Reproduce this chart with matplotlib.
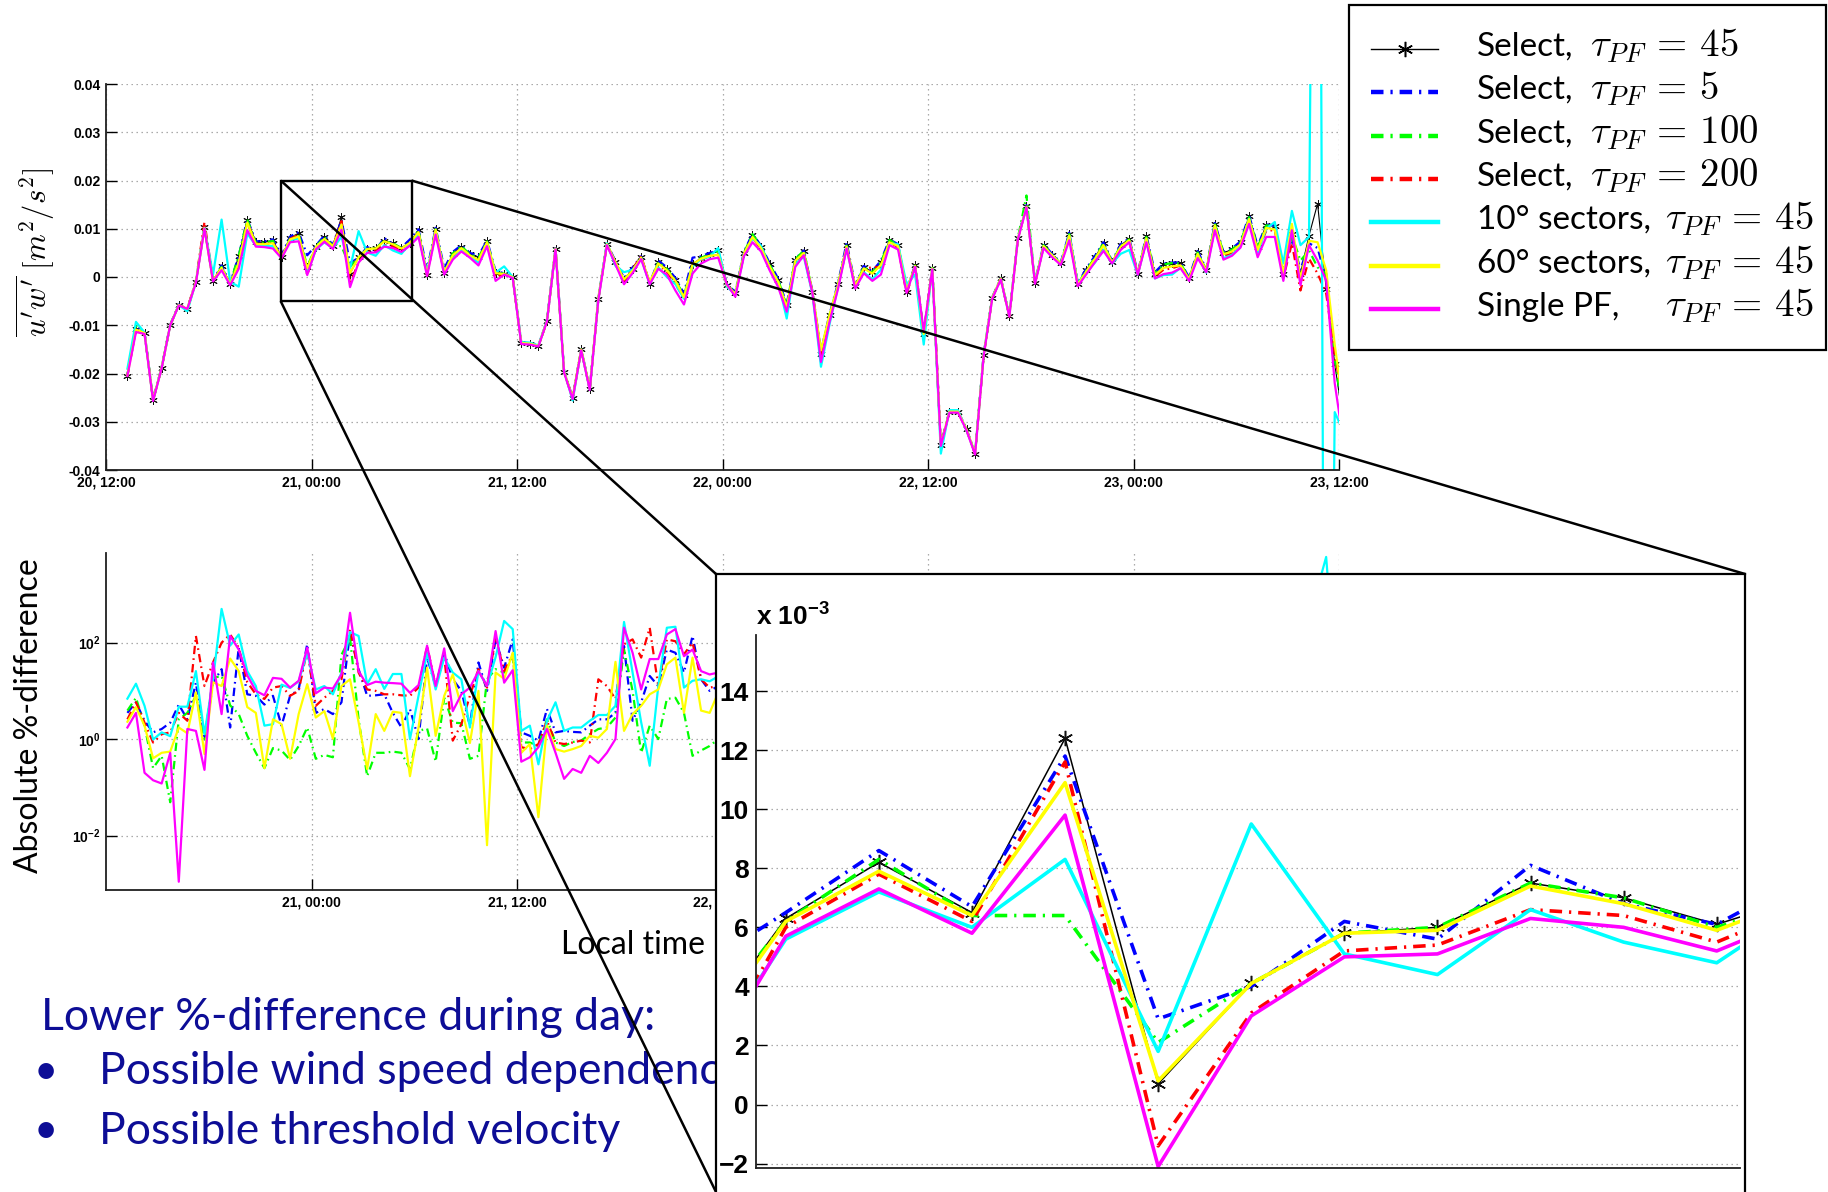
import numpy as np
import matplotlib
matplotlib.use("Agg")
import matplotlib.pyplot as plt
from matplotlib.patches import Rectangle
from matplotlib.ticker import FixedLocator, FixedFormatter, NullLocator

plt.rcParams.update({
    "font.family": ["Liberation Sans", "DejaVu Sans"],
    "mathtext.fontset": "custom",
    "mathtext.rm": "Liberation Sans:bold",
    "mathtext.bf": "Liberation Sans:bold",
    "mathtext.it": "Liberation Sans:bold:italic",
    "lines.scale_dashes": False,
})

# ---------------------------------------------------------------- data
# Half-hourly covariance u'w' in units of 1e-3 m^2/s^2.
# Time axis in hours counted from 20, 12:00 local time.
START_H = 1.25
STEP_H = 0.5

sel_45 = [
    -20.5, -10.7, -11.6, -25.5, -18.8, -10.0, -5.7, -6.6, -1.0, 10.3,
    -0.8, 2.2, -1.4, 4.3, 11.9, 7.2, 7.2, 7.6, 4.1, 8.1,
    9.1, 2.0, 6.3, 8.2, 6.5, 12.4, 0.7, 4.1, 5.8, 6.0,
    7.5, 7.0, 6.1, 7.1, 9.7, 0.5, 10.0, 0.9, 4.8, 6.3,
    4.7, 4.1, 7.4, 0.9, 0.7, 0.0, -13.7, -13.8, -14.3, -9.1,
    5.9, -19.6, -25.1, -15.0, -23.2, -4.5, 6.9, 3.1, -0.6, 1.7,
    4.1, -1.5, 3.1, 1.7, -0.6, -3.8, 2.6, 4.0, 4.8, 5.5,
    -1.7, -3.3, 5.0, 8.8, 6.3, 2.6, -0.6, -5.9, 3.6, 5.3,
    -3.1, -15.9, -7.9, -1.5, 6.6, -1.9, 2.1, 1.0, 3.1, 7.6,
    6.6, -3.1, 2.4, -11.8, 1.9, -34.8, -27.9, -27.9, -31.6, -36.6,
    -16.2, -4.3, -0.3, -8.1, 8.1, 14.8, -1.2, 6.6, 4.6, 2.8,
    9.0, -1.5, 1.5, 4.1, 7.0, 3.1, 6.6, 7.9, 0.7, 8.4,
    0.7, 2.6, 2.9, 2.8, -0.3, 5.2, 1.4, 11.0, 5.0, 5.7,
    7.2, 12.6, 6.2, 10.8, 10.5, 0.7, 9.0, 0.7, 8.6, 15.2,
    -2.4, -18.0, -30.0,
]
sel_5 = [
    -20.3, -10.6, -11.5, -25.4, -18.7, -9.9, -5.7, -6.6, -0.9, 10.4,
    -0.7, 2.4, -1.3, 4.4, 12.0, 7.4, 7.4, 7.8, 4.5, 8.4,
    9.3, 4.5, 6.5, 8.6, 6.7, 11.8, 2.9, 4.0, 6.2, 5.6,
    8.1, 6.8, 6.1, 7.8, 9.9, 1.5, 10.2, 1.8, 5.2, 6.6,
    5.0, 4.4, 7.6, 1.2, 0.8, 0.0, -13.6, -13.7, -14.2, -9.0,
    6.0, -19.5, -25.0, -14.9, -23.1, -4.4, 7.0, 3.3, -0.2, 2.0,
    4.3, -1.3, 3.4, 2.0, -0.2, -3.4, 4.0, 4.3, 5.0, 5.5,
    -1.5, -3.1, 5.2, 9.0, 6.5, 2.9, -0.3, -5.7, 3.8, 5.5,
    -2.9, -15.4, -7.7, -1.2, 7.1, -1.7, 2.3, 1.2, 3.4, 7.8,
    6.8, -2.9, 2.6, -11.6, 2.0, -34.7, -27.8, -27.8, -31.5, -36.5,
    -16.1, -4.2, -0.2, -8.0, 8.2, 14.9, -1.1, 6.8, 4.8, 3.0,
    9.2, -1.3, 1.8, 4.4, 7.2, 3.3, 6.8, 8.0, 0.9, 8.6,
    1.0, 2.8, 3.0, 3.0, -0.1, 5.4, 1.6, 11.2, 5.2, 5.9,
    7.4, 12.8, 6.4, 10.9, 10.6, 0.9, 8.0, 1.5, 7.0, 6.0,
    -0.5, -16.0, -29.0,
]
sel_100 = [
    -20.3, -10.2, -11.5, -25.5, -18.8, -10.0, -5.8, -6.7, -1.0, 10.4,
    -0.8, 2.1, -1.3, 4.4, 11.9, 7.1, 7.1, 7.5, 4.1, 8.0,
    8.9, 2.2, 6.2, 8.3, 6.4, 6.4, 2.1, 4.1, 5.8, 6.0,
    7.5, 7.0, 6.0, 7.0, 9.6, 0.6, 9.9, 1.0, 4.9, 6.4,
    4.7, 4.0, 7.4, 0.8, 0.7, 0.0, -13.7, -13.8, -14.3, -9.1,
    5.9, -19.6, -25.1, -15.0, -23.2, -4.5, 6.9, 3.0, -0.6, 1.6,
    4.1, -1.4, 3.1, 1.7, -0.7, -3.8, 2.5, 4.0, 4.7, 5.4,
    -1.7, -3.3, 5.0, 8.9, 6.3, 2.6, -0.6, -5.8, 3.7, 5.5,
    -3.1, -15.5, -7.9, -1.5, 6.5, -1.9, 2.1, 1.0, 3.0, 7.7,
    6.6, -3.0, 2.4, -11.9, 1.9, -34.8, -27.9, -27.9, -31.6, -36.6,
    -16.2, -4.3, -0.3, -8.1, 8.1, 16.9, -1.2, 6.6, 4.6, 2.8,
    8.9, -1.5, 1.5, 4.0, 7.0, 3.1, 6.5, 7.8, 0.7, 8.3,
    0.7, 2.6, 2.9, 2.8, -0.3, 5.1, 1.4, 11.1, 5.0, 5.7,
    7.2, 12.4, 6.1, 10.7, 10.6, 0.7, 8.6, 3.4, 5.5, 2.0,
    0.7, -17.0, -29.0,
]
sel_200 = [
    -20.5, -10.9, -11.6, -25.5, -18.8, -10.0, -5.8, -6.6, -0.8, 11.4,
    -0.6, 1.7, -1.3, 2.5, 11.2, 6.9, 6.8, 7.1, 4.0, 7.9,
    8.8, 0.4, 6.0, 7.8, 6.2, 11.6, -1.4, 3.1, 5.2, 5.4,
    6.6, 6.4, 5.5, 6.8, 9.0, 0.3, 9.4, 0.7, 4.2, 5.8,
    4.3, 3.3, 6.9, 0.0, 0.6, -0.1, -13.8, -13.9, -14.3, -9.2,
    5.8, -19.7, -25.2, -15.1, -23.3, -4.6, 6.8, 2.6, -0.8, 1.7,
    4.3, -1.2, 2.6, 1.1, -1.5, -4.3, 1.9, 3.5, 4.4, 4.8,
    -1.6, -3.8, 4.7, 8.2, 5.8, 1.9, -1.4, -6.6, 2.9, 5.0,
    -3.2, -16.0, -8.5, -1.9, 6.2, -2.1, 1.5, 2.1, 2.0, 7.2,
    6.2, -3.5, 2.2, -11.9, 1.8, -34.9, -28.0, -28.0, -31.7, -36.7,
    -16.3, -4.4, -0.4, -8.2, 7.9, 14.6, -1.3, 6.3, 4.3, 2.6,
    8.2, -1.7, 0.9, 3.5, 6.2, 2.9, 6.0, 7.4, 0.6, 7.6,
    0.1, 1.5, 1.8, 2.4, -0.6, 4.5, 1.2, 10.3, 4.2, 4.9,
    6.6, 11.7, 5.2, 9.6, 9.7, -0.2, 7.0, -2.8, 3.8, 0.7,
    -3.4, -16.0, -26.0,
]
sect_10 = [
    -19.0, -9.3, -11.5, -25.5, -18.8, -10.0, -5.8, -7.1, -1.0, 10.2,
    0.5, 11.9, -1.0, -2.0, 9.0, 6.5, 6.4, 6.4, 4.0, 7.6,
    8.0, 0.8, 5.6, 7.2, 6.0, 8.3, 1.8, 9.5, 5.1, 4.4,
    6.6, 5.5, 4.8, 6.9, 8.7, 0.8, 9.5, 1.0, 3.8, 5.6,
    4.2, 3.0, 7.0, 0.9, 2.2, 0.0, -13.5, -13.6, -14.2, -9.0,
    5.8, -19.5, -25.6, -15.1, -23.3, -4.6, 7.0, 2.3, 1.0, 1.5,
    3.8, -1.4, 2.0, 0.0, -1.5, -4.5, 2.2, 3.7, 4.2, 6.0,
    -2.0, -3.6, 4.5, 8.0, 6.5, 2.0, -1.0, -8.6, 2.8, 4.2,
    -3.5, -18.6, -9.8, -2.0, 6.0, -2.2, 1.0, -0.5, 1.5, 7.0,
    6.8, -1.5, 0.5, -14.0, 1.8, -36.6, -27.6, -27.6, -31.8, -36.5,
    -16.0, -4.3, -0.4, -8.0, 8.0, 14.5, -1.0, 6.2, 4.5, 2.6,
    8.6, -1.4, 1.0, 3.0, 5.7, 2.8, 4.8, 5.6, 0.5, 7.5,
    -0.3, 0.4, 0.5, 1.9, -0.6, 4.4, 0.9, 10.5, 3.9, 4.6,
    6.5, 12.0, 5.0, 10.0, 11.4, 2.8, 13.7, 6.6, 8.3, 220.0,
    -200.0, -28.0, -32.0,
]
sect_60 = [
    -20.4, -10.9, -11.6, -25.5, -18.8, -10.0, -5.8, -6.6, -1.0, 10.1,
    -0.8, 1.9, -1.5, 3.0, 11.3, 6.8, 6.8, 7.0, 4.0, 7.8,
    8.4, 1.8, 6.2, 7.9, 6.4, 10.9, 0.8, 4.1, 5.8, 5.9,
    7.4, 6.8, 5.9, 7.1, 9.3, 0.4, 9.8, 1.0, 4.5, 6.0,
    4.5, 3.5, 7.2, 0.8, 0.6, 0.0, -13.7, -13.8, -14.3, -9.1,
    5.9, -19.6, -25.1, -15.0, -23.2, -4.5, 6.8, 3.1, -0.5, 1.3,
    4.0, -1.0, 2.8, 1.4, -0.8, -4.2, 2.6, 3.8, 4.4, 4.6,
    -1.7, -3.5, 4.8, 8.3, 6.0, 2.2, -1.0, -6.3, 3.4, 5.0,
    -3.1, -15.2, -7.9, -1.6, 6.3, -1.9, 1.8, 0.7, 2.5, 7.2,
    6.4, -2.8, 2.3, -11.8, 1.8, -34.8, -27.9, -27.9, -31.6, -36.6,
    -16.2, -4.3, -0.3, -8.1, 8.0, 14.5, -1.2, 6.4, 4.5, 2.7,
    8.6, -1.6, 1.2, 3.8, 6.6, 3.0, 6.3, 7.6, 0.7, 8.0,
    0.4, 1.9, 2.2, 2.4, -0.4, 4.8, 1.3, 10.7, 4.7, 5.3,
    6.8, 12.0, 5.6, 10.2, 9.8, 0.7, 11.0, -0.4, 7.5, 7.2,
    1.4, -14.0, -27.0,
]
single_pf = [
    -20.5, -11.4, -11.8, -25.7, -18.9, -10.0, -5.9, -6.6, -1.2, 10.0,
    -0.9, 1.4, -1.7, 1.7, 9.7, 6.3, 6.2, 5.9, 3.9, 7.2,
    7.4, 0.4, 5.7, 7.3, 5.8, 9.8, -2.1, 3.0, 5.0, 5.1,
    6.3, 6.0, 5.2, 6.5, 8.3, 0.2, 8.8, 0.5, 3.6, 5.3,
    4.0, 2.4, 6.4, -0.8, 0.5, -0.2, -13.9, -14.0, -14.4, -9.2,
    5.7, -19.8, -25.3, -15.2, -23.4, -4.8, 6.6, 2.6, -1.5, 0.8,
    3.7, -1.5, 1.7, 0.5, -2.8, -5.7, 0.7, 2.8, 3.7, 4.0,
    -1.5, -4.1, 4.3, 7.2, 5.3, 1.4, -2.1, -7.2, 2.1, 4.5,
    -3.3, -17.6, -9.3, -2.4, 5.9, -2.4, 0.8, -0.8, 0.5, 6.6,
    5.7, -3.3, 2.1, -11.2, 1.6, -35.0, -28.1, -28.1, -31.8, -36.8,
    -16.4, -4.5, -0.5, -8.2, 7.8, 14.4, -1.4, 6.0, 4.1, 2.5,
    7.6, -1.9, 0.6, 3.1, 5.4, 2.8, 5.6, 7.2, 0.5, 7.2,
    -0.3, 0.6, 0.9, 1.8, -0.8, 3.9, 1.0, 9.7, 3.6, 4.4,
    6.1, 11.0, 4.1, 8.3, 8.3, -0.8, 9.7, -1.7, 6.6, 3.4,
    -0.7, -22.0, -34.0,
]

# Absolute %-difference relative to "Select, tau=45", first 70 samples
pct_sel_5 = [
    3.5, 5.8, 2.4, 1.38, 1.62, 2.19, 5.2, 2.57, 14.8, 0.93,
    14.8, 28.2, 1.74, 79, 8.5, 7.9, 5.2, 7.9, 1.9, 7.9,
    10.7, 93, 3.5, 4.2, 3.3, 5.8, 162, 28.2, 7.9, 8.1,
    8.5, 3.5, 1.74, 4.2, 1.0, 49, 12.6, 61.7, 17.4, 10,
    1.9, 38.9, 10, 117, 30.2, 117, 1.38, 1.17, 0.93, 4.2,
    1.38, 1.48, 1.41, 1.38, 1.9, 2.57, 2.57, 3.5, 85, 2.4,
    5.8, 20.4, 12.6, 72, 61.7, 24, 138, 17.4, 10, 12.6,
]
pct_sel_100 = [
    3.9, 7.2, 1.9, 0.25, 0.45, 0.049, 2.57, 3.5, 7.9, 1.0,
    18.6, 20.4, 5.0, 3.3, 1.17, 0.52, 0.25, 0.65, 0.58, 0.37,
    0.72, 1.74, 0.39, 0.47, 0.42, 56, 126, 2.57, 0.17, 0.52,
    0.52, 0.55, 0.52, 0.24, 1.48, 1.66, 0.34, 7.2, 2.19, 2.14,
    0.39, 0.45, 17.4, 28.2, 24, 49, 0.85, 0.85, 0.72, 2.57,
    0.85, 0.72, 0.87, 0.93, 1.26, 1.62, 1.74, 2.8, 72, 10,
    0.52, 1.9, 1.0, 6.8, 7.2, 3.5, 0.45, 0.58, 0.72, 1.0,
]
pct_sel_200 = [
    2.57, 5.8, 2.19, 0.85, 1.26, 1.38, 3.5, 2.4, 138, 12.6,
    38.9, 100, 148, 79, 15.1, 8.5, 6.8, 11.7, 12.6, 7.9,
    10, 72, 4.9, 7.2, 10, 17.4, 191, 24, 10.7, 10,
    8.5, 8.5, 8.1, 7.9, 11.7, 85, 12.6, 52.5, 0.93, 2.04,
    7.9, 28.2, 11.7, 126, 25.7, 57.5, 0.68, 0.62, 0.79, 2.4,
    0.85, 0.79, 0.85, 0.93, 0.85, 17.4, 12.6, 6.8, 93, 117,
    49, 204, 12.6, 117, 107, 57.5, 100, 17.4, 11.7, 12.6,
]
pct_sect_10 = [
    6.9, 14.1, 4.9, 0.98, 1.38, 1.15, 4.7, 4.7, 25.7, 1.26,
    17.4, 501, 87, 148, 25.7, 12.6, 1.9, 2.04, 13.5, 11.5,
    15.8, 61.7, 10.7, 12.6, 8.5, 24, 166, 138, 13.8, 28.2,
    11, 22.4, 22.4, 1.0, 7.9, 61.7, 10.7, 49, 24, 17.4,
    1.74, 25.7, 12.6, 50, 282, 191, 1.48, 1.9, 0.30, 2.4,
    5.8, 1.48, 1.74, 1.74, 2.4, 3.16, 3.16, 4.9, 269, 24,
    2.24, 0.28, 12.6, 204, 214, 11.7, 16.2, 17.4, 15.8, 20,
]
pct_sect_60 = [
    2.29, 4.6, 1.9, 0.40, 0.52, 0.55, 1.74, 1.32, 9.3, 0.49,
    15.1, 12.6, 46.8, 25.7, 4.6, 3.5, 0.25, 2.57, 2.04, 0.39,
    3.3, 13.8, 2.8, 3.8, 1.02, 12.6, 17.4, 2.24, 0.24, 3.3,
    1.48, 3.7, 3.5, 0.17, 1.74, 30.2, 1.17, 7.9, 21.9, 4.6,
    0.83, 10, 0.0063, 24, 17.8, 61.7, 0.52, 0.79, 0.024, 1.9,
    0.62, 0.55, 0.62, 0.72, 1.17, 1.07, 1.62, 40, 1.48, 3.3,
    4.9, 8.5, 10.7, 35.5, 49, 3.5, 49, 3.9, 3.5, 9.3,
]
pct_single_pf = [
    1.74, 3.5, 0.20, 0.14, 0.12, 0.52, 0.0011, 1.62, 1.48, 0.23,
    38.9, 3.3, 138, 72, 20.9, 10, 8.1, 18.6, 17.8, 11.7,
    16.2, 79, 8.9, 11.7, 11.2, 21.9, 417, 25.7, 13.2, 15.5,
    14.8, 14.5, 14.1, 9.1, 13.2, 87, 12.6, 76, 3.8, 8.5,
    11.7, 25.7, 12.6, 174, 14.8, 26.9, 0.34, 0.42, 0.68, 1.62,
    0.52, 0.15, 0.24, 0.20, 0.45, 0.32, 0.52, 1.0, 204, 61.7,
    10.7, 45.7, 45.7, 148, 191, 52.5, 72, 25.7, 21.9, 24,
]
# late 10-degree-sector burst (samples 138..141)
PCT_TAIL_START = 138
pct_sect_10_tail = [10, 1350, 6000, 30]

time_ticks_h = [0, 12, 24, 36, 48, 60, 72]
time_labels = ["20, 12:00", "21, 00:00", "21, 12:00", "22, 00:00",
               "22, 12:00", "23, 00:00", "23, 12:00"]
uw_ticks = [-0.04, -0.03, -0.02, -0.01, 0, 0.01, 0.02, 0.03, 0.04]
uw_tick_labels = ["-0.04", "-0.03", "-0.02", "-0.01", "0",
                  "0.01", "0.02", "0.03", "0.04"]
zoom_ticks = [-2, 0, 2, 4, 6, 8, 10, 12, 14]
zoom_tick_labels = ["\u22122", "0", "2", "4", "6", "8", "10", "12", "14"]
pct_ticks = [1e-2, 1e0, 1e2]
pct_tick_labels = [r"$\mathbf{10^{-2}}$", r"$\mathbf{10^{0}}$", r"$\mathbf{10^{2}}$"]

legend_names = ["Select,", "Select,", "Select,", "Select,",
                "10\u00b0 sectors,", "60\u00b0 sectors,", "Single PF,"]
legend_tau = ["45", "5", "100", "200", "45", "45", "45"]

for arr in (sel_5, sel_100, sel_200, sect_10, sect_60, single_pf):
    if len(arr) != len(sel_45):
        raise ValueError("series length mismatch")

# ---------------------------------------------------------------- styling
W, H, DPI = 1828, 1192, 100
BLUE, GREEN, RED = "#0000ff", "#00ff00", "#ff0000"
CYAN, YELLOW, MAGENTA = "#00ffff", "#ffff00", "#ff00ff"
NAVY = "#0d0d96"
GRID = dict(color="#a0a0a0", linestyle=(0, (1.0, 2.6)), linewidth=0.9)
DD_S = (0, (6.0, 3.0, 1.2, 3.0))
DD_L = (0, (9.0, 5.0, 1.6, 5.0))
ASTERISK = (6, 2, 0)

series = [
    (sel_45, dict(color="k", ls="-", marker="*")),
    (sel_5, dict(color=BLUE, ls="dd")),
    (sel_100, dict(color=GREEN, ls="dd")),
    (sel_200, dict(color=RED, ls="dd")),
    (sect_10, dict(color=CYAN, ls="-")),
    (sect_60, dict(color=YELLOW, ls="-")),
    (single_pf, dict(color=MAGENTA, ls="-")),
]


def line_kw(st, scale):
    """scale: 'small' for the overview panels, 'big' for the magnified one."""
    big = scale == "big"
    if st["color"] == "k":
        return dict(color="k", lw=1.1 if big else 0.8, marker=ASTERISK,
                    ms=11 if big else 6, mew=1.1 if big else 0.7,
                    mec="#111111")
    ls = st["ls"]
    if ls == "dd":
        ls = DD_L if big else DD_S
    return dict(color=st["color"], lw=2.6 if big else 1.6, ls=ls)


def box(l, t, r, b):
    return [l / W, 1 - b / H, (r - l) / W, (b - t) / H]


def style_axes(ax):
    for s in ("top", "right"):
        ax.spines[s].set_visible(False)
    for s in ("left", "bottom"):
        ax.spines[s].set_linewidth(1.3)
        ax.spines[s].set_color("#202020")
    ax.set_facecolor("white")


fig = plt.figure(figsize=(W / DPI, H / DPI), dpi=DPI)
fig.patch.set_facecolor("white")

hours = START_H + STEP_H * np.arange(len(sel_45))

# ---------------------------------------------------------------- top panel
ax_t = fig.add_axes(box(106, 84, 1339, 470))
style_axes(ax_t)
for vals, st in series:
    ax_t.plot(hours, np.asarray(vals) * 1e-3, **line_kw(st, "small"))
ax_t.set_xlim(0, 72)
ax_t.set_ylim(-0.04, 0.04)
ax_t.set_xticks(time_ticks_h)
ax_t.set_xticklabels(time_labels, fontweight="bold", fontsize=10)
ax_t.set_yticks(uw_ticks)
ax_t.set_yticklabels(uw_tick_labels, fontweight="bold", fontsize=10)
ax_t.tick_params(direction="in", length=8, width=1.0, pad=4)
ax_t.grid(True, **GRID)
ax_t.set_axisbelow(True)

# zoom window marked on the overview (hours, m^2/s^2)
ZOOM_BOX = (10.2, 17.84, -0.005, 0.02)
zx0, zx1, zy0, zy1 = ZOOM_BOX
ax_t.add_patch(Rectangle((zx0, zy0), zx1 - zx0, zy1 - zy0, fill=False,
                         ec="k", lw=1.7, zorder=10))

fig.text(35 / W, 1 - 252 / H, r"$\overline{u'w'}\ [m^2/s^2]$", rotation=90,
         ha="center", va="center", fontsize=22, math_fontfamily="cm")

# ---------------------------------------------------------------- bottom panel
ax_b = fig.add_axes(box(106, 553, 1339, 890))
style_axes(ax_b)
n_pct = len(pct_sel_5)
pct_series = [pct_sel_5, pct_sel_100, pct_sel_200, pct_sect_10,
              pct_sect_60, pct_single_pf]
for vals, (_, st) in zip(pct_series, series[1:]):
    ax_b.plot(hours[:n_pct], vals, **line_kw(st, "small"))
tail_h = hours[PCT_TAIL_START:PCT_TAIL_START + len(pct_sect_10_tail)]
ax_b.plot(tail_h, pct_sect_10_tail, **line_kw(series[4][1], "small"))
ax_b.set_yscale("log")
ax_b.set_xlim(0, 72)
ax_b.set_ylim(10 ** -3.13, 10 ** 3.86)
ax_b.yaxis.set_major_locator(FixedLocator(pct_ticks))
ax_b.yaxis.set_major_formatter(FixedFormatter(pct_tick_labels))
ax_b.yaxis.set_minor_locator(NullLocator())
ax_b.set_xticks(time_ticks_h[1:])
ax_b.set_xticklabels(time_labels[1:], fontweight="bold", fontsize=10)
ax_b.tick_params(axis="y", labelsize=10)
ax_b.tick_params(direction="in", length=8, width=1.0, pad=4)
ax_b.grid(True, **GRID)
ax_b.set_axisbelow(True)

fig.text(29 / W, 1 - 716 / H, "Absolute %-difference", rotation=90,
         ha="center", va="center", fontsize=23, family="Lato")
fig.text(633 / W, 1 - 945 / H, "Local time", ha="center", va="center",
         fontsize=23, family="Lato")

# ---------------------------------------------------------------- slide notes
fig.text(41 / W, 1 - 1017 / H, "Lower %-difference during day:", ha="left",
         va="center", fontsize=32, family="Lato", color=NAVY)
for yy, txt in ((1072, "Possible wind speed dependence"),
                (1131, "Possible threshold velocity")):
    fig.text(46 / W, 1 - yy / H, "\u2022", ha="center", va="center",
             fontsize=30, family="Lato", color=NAVY)
    fig.text(99 / W, 1 - yy / H, txt, ha="left", va="center",
             fontsize=32, family="Lato", color=NAVY)

# ---------------------------------------------------------------- overlay
ov = fig.add_axes([0, 0, 1, 1], zorder=4)
ov.set_xlim(0, W)
ov.set_ylim(H, 0)
ov.set_axis_off()
ov.patch.set_visible(False)


def to_px(ax, x, y):
    X, Y = ax.transData.transform((x, y))
    return X, H - Y


INSET_L, INSET_T, INSET_R, INSET_B = 716, 574, 1745, 1192
tl = to_px(ax_t, zx0, zy1)
tr = to_px(ax_t, zx1, zy1)
bl = to_px(ax_t, zx0, zy0)
for (px, py), (qx, qy) in ((tl, (INSET_L, INSET_T)), (tr, (INSET_R, INSET_T)),
                           (bl, (INSET_L, INSET_B))):
    ov.plot([px, qx], [py, qy], color="k", lw=1.8, solid_capstyle="butt")

# legend
ov.add_patch(Rectangle((1349, 5), 477, 345, fill=False, ec="k", lw=1.6))
rows_y = [49, 92, 136, 179, 222, 266, 309]
for i, ((_, st), name, tau, yy) in enumerate(zip(series, legend_names,
                                                 legend_tau, rows_y)):
    kw = line_kw(st, "big")
    if st["color"] == "k":
        ov.plot([1371, 1438], [yy, yy], color="k", lw=1.0)
        ov.plot([1404.5], [yy], marker=ASTERISK, color="k", ms=11, mew=1.1)
    else:
        kw["lw"] = 3.2
        ov.plot([1371, 1438], [yy, yy], **kw)
    ov.text(1477, yy + 7, name, fontsize=24, family="Lato", va="baseline")
    tx = 1590 if i < 4 else 1665
    ov.text(tx, yy + 7, r"$\tau_{PF}\,=\,%s$" % tau, fontsize=28,
            va="baseline", math_fontfamily="cm")

# ---------------------------------------------------------------- magnified panel
frame = fig.add_axes(box(INSET_L, INSET_T, INSET_R, INSET_B + 6), zorder=5)
frame.set_xticks([])
frame.set_yticks([])
frame.set_facecolor("white")
for s in frame.spines.values():
    s.set_linewidth(1.6)
    s.set_color("k")
frame.spines["bottom"].set_visible(False)

ax_z = fig.add_axes(box(756, 635, 1740, 1168), zorder=6)
style_axes(ax_z)
ax_z.patch.set_visible(False)
for vals, st in series:
    ax_z.plot(hours, vals, **line_kw(st, "big"))
ax_z.set_xlim(START_H + STEP_H * 21.68, START_H + STEP_H * 32.25)
ax_z.set_ylim(-2.15, 15.9)
ax_z.set_xticks([])
ax_z.set_yticks(zoom_ticks)
ax_z.set_yticklabels(zoom_tick_labels, fontweight="bold", fontsize=19)
ax_z.tick_params(direction="in", length=8, width=1.0, pad=5)
ax_z.grid(True, axis="y", **GRID)
ax_z.set_axisbelow(True)
fig.text(756 / W, 1 - 626 / H, r"x 10$^{\mathbf{-3}}$", ha="left",
         va="baseline", fontsize=19, fontweight="bold", zorder=7)

fig.savefig("out.png", dpi=DPI, facecolor="white")
